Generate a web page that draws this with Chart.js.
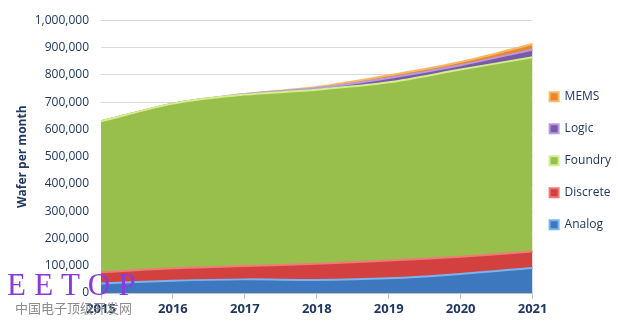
<!DOCTYPE html>
<html lang="en">
<head>
    <meta charset="UTF-8">
    <title>Wafer per month by type</title>
    <script src="https://cdn.jsdelivr.net/npm/chart.js"></script>
    <style>
        body { margin: 0; background: #fff; }
        #wrap { position: relative; width: 618px; height: 323px; overflow: hidden; }
        .mark1 { position: absolute; left: 7px; top: 267px; font-family: "Liberation Serif", serif; font-size: 31px; color: #8a3be0; letter-spacing: 0.3px; white-space: pre; }
        .mark2 { position: absolute; left: 15px; top: 300px; font-family: "Noto Sans CJK SC", sans-serif; font-size: 13px; line-height: 16px; color: #8c8c8c; }
    </style>
</head>
<body>
<div id="wrap">
    <canvas id="waferChart" width="618" height="323"></canvas>
    <div class="mark1">E E T O P</div>
    <div class="mark2">中国电子顶级开发网</div>
</div>
<script>
    const years = ['2015', '2016', '2017', '2018', '2019', '2020', '2021'];
    const analog   = [35000, 45000, 50000, 48000, 54000, 70000, 92000];
    const discrete = [41000, 46000, 49000, 59000, 65000, 63000, 60000];
    const foundry  = [554000, 604000, 629000, 639000, 654000, 687000, 713000];
    const logic    = [0, 0, 2000, 6000, 16000, 16000, 28000];
    const mems     = [0, 0, 0, 4000, 10000, 12000, 21000];
    const yTicks   = [0, 100000, 200000, 300000, 400000, 500000, 600000, 700000, 800000, 900000, 1000000];

    const navy = '#1f3864';

    function area(label, data, fill, edge, fillMode) {
        return {
            label: label,
            data: data,
            backgroundColor: fill,
            borderColor: edge,
            borderWidth: 2,
            fill: fillMode,
            pointRadius: 0,
            tension: 0.3
        };
    }

    // nudge the legend to where the original one is
    const legendShift = {
        id: 'legendShift',
        afterLayout(chart) {
            const lg = chart.legend;
            lg.top -= 11;
            lg.bottom -= 11;
            lg.left -= 3;
            lg.right -= 3;
        }
    };

    const ctx = document.getElementById('waferChart').getContext('2d');
    new Chart(ctx, {
        type: 'line',
        data: {
            labels: years,
            datasets: [
                area('Analog', analog, '#3d77bd', '#78b4ee', 'origin'),
                area('Discrete', discrete, '#d2413f', '#f07a78', '-1'),
                area('Foundry', foundry, '#98bf4b', '#d3ee8a', '-1'),
                area('Logic', logic, '#7a5aa6', '#b79be0', '-1'),
                area('MEMS', mems, '#e9862e', '#f9b867', '-1')
            ]
        },
        plugins: [legendShift],
        options: {
            responsive: false,
            animation: false,
            layout: { padding: { top: 20.5, left: 15, right: -6, bottom: 0 } },
            scales: {
                x: {
                    offset: false,
                    grid: { display: true, drawOnChartArea: false, color: '#bfbfbf', tickLength: 6 },
                    border: { color: '#bfbfbf' },
                    ticks: { color: navy, font: { family: 'Open Sans', size: 13, weight: 'bold' }, padding: 2, maxRotation: 0 },
                    afterFit: s => { s.height = 30; }
                },
                y: {
                    stacked: true,
                    min: 0,
                    max: 1000000,
                    afterBuildTicks: s => { s.ticks = yTicks.map(v => ({ value: v })); },
                    grid: { color: '#d9d9d9', drawTicks: false },
                    border: { display: false },
                    ticks: {
                        color: navy,
                        font: { family: 'Open Sans', size: 12 },
                        padding: 12,
                        callback: v => v.toLocaleString('en-US')
                    },
                    title: {
                        display: true,
                        text: 'Wafer per month',
                        color: navy,
                        font: { family: 'Open Sans', size: 12, weight: 'bold' },
                        padding: 0
                    },
                    afterFit: s => { s.width = 86; }
                }
            },
            plugins: {
                legend: {
                    position: 'right',
                    reverse: true,
                    labels: {
                        color: navy,
                        boxWidth: 9,
                        boxHeight: 9,
                        padding: 20,
                        font: { family: 'Open Sans', size: 12 }
                    }
                },
                tooltip: { enabled: false }
            }
        }
    });
</script>
</body>
</html>
